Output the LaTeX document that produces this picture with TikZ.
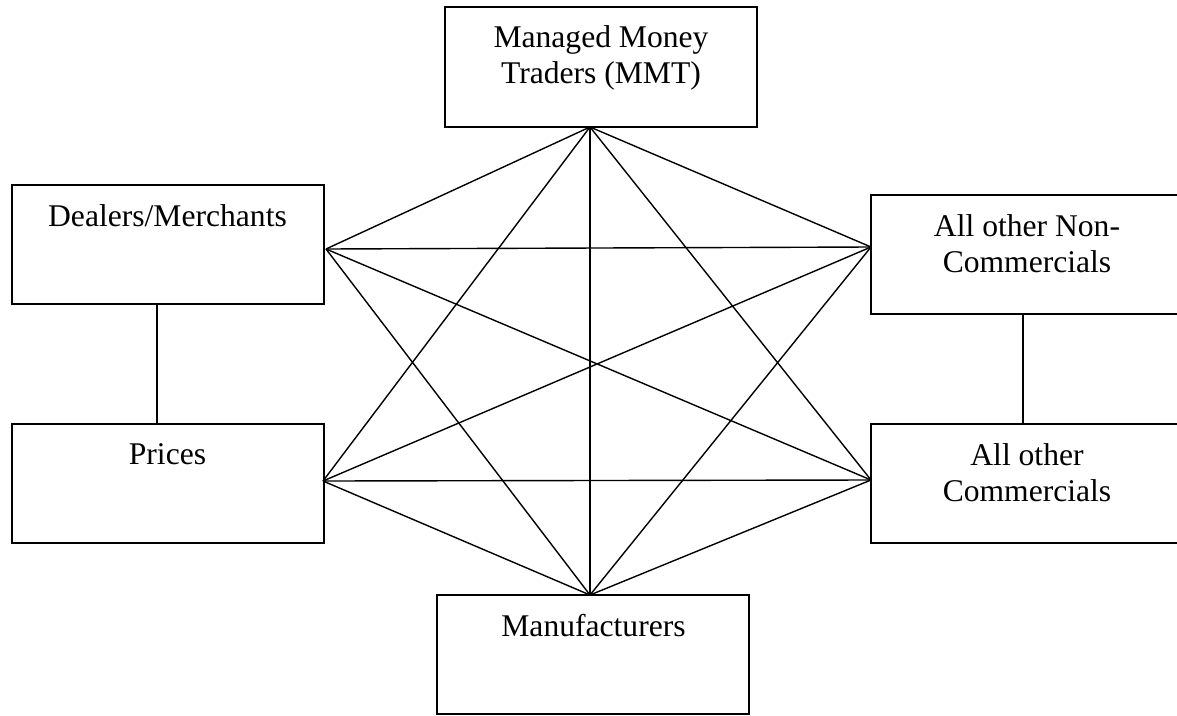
\documentclass[tikz,border=0pt]{standalone}
\usepackage{fontspec}
\setmainfont{Liberation Serif}
\begin{document}
\begin{tikzpicture}[x=1pt,y=-1pt,
  box/.style={draw, line width=1.5pt, minimum width=312pt, minimum height=119pt, inner sep=0pt, outer sep=0pt, anchor=north west},
  lbl/.style={font=\fontsize{31.6}{36}\selectfont, align=center, anchor=base, inner sep=0pt},
  link/.style={line width=1.4pt}]
\useasboundingbox (0,0) rectangle (1177,715);
\clip (0,0) rectangle (1177,715);
% boxes
\node[box, minimum height=120pt] (mmt) at (445,7) {};
\node[box] (dm) at (12,185) {};
\node[box] (nc) at (871,195) {};
\node[box] (pr) at (12,424) {};
\node[box] (oc) at (871,424) {};
\node[box] (mf) at (437,595) {};
% labels (base anchor = baseline of last line)
\node[lbl] (tmmt) at (601,83) {Managed Money\\Traders (MMT)};
\node[lbl] (tdm) at (167.5,226) {Dealers/Merchants};
\node[lbl] (tnc) at (1027,272) {All other Non-\\Commercials};
\node[lbl] (tpr) at (167.5,464) {Prices};
\node[lbl] (toc) at (1027,501) {All other\\Commercials};
\node[lbl] (tmf) at (593.5,636) {Manufacturers};
% junction points
\coordinate (jm) at (590,127);
\coordinate (jf) at (590,595);
\coordinate (jd) at (326,249);
\coordinate (jp) at (323,481);
\coordinate (jn) at (871,247);
\coordinate (jc) at (871,480);
% star connectors
\draw[link] (jm) -- (jd);
\draw[link] (jm) -- (jn);
\draw[link] (jm) -- (jp);
\draw[link] (jm) -- (jc);
\draw[link] (jm) -- (jf);
\draw[link] (jd) -- (jn);
\draw[link] (jd) -- (jc);
\draw[link] (jd) -- (jf);
\draw[link] (jp) -- (jn);
\draw[link] (jp) -- (jc);
\draw[link] (jp) -- (jf);
\draw[link] (jn) -- (jf);
\draw[link] (jc) -- (jf);
% vertical connectors
\draw[link] (dm.south -| 157,0) -- (pr.north -| 157,0);
\draw[link] (nc.south -| 1023,0) -- (oc.north -| 1023,0);
\end{tikzpicture}
\end{document}
